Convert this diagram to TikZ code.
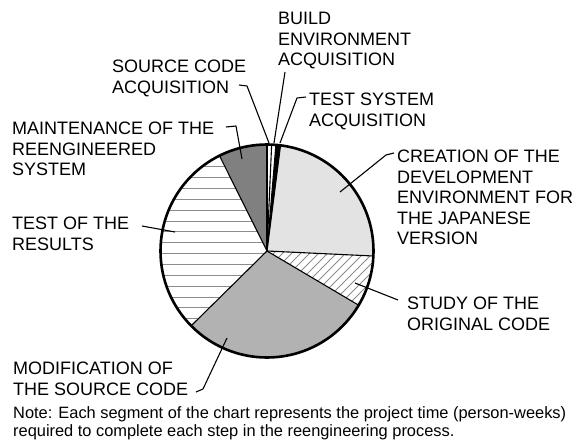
\documentclass[tikz,border=0pt]{standalone}
\usepackage{fontspec}
\setmainfont{Liberation Sans}
\definecolor{creafill}{gray}{0.89}
\definecolor{modifill}{gray}{0.70}
\definecolor{maintfill}{gray}{0.50}
\definecolor{ruling}{gray}{0.55}
\begin{document}
\begin{tikzpicture}[x=1pt,y=1pt,
  lbl/.style={anchor=north west, inner sep=0pt, align=left,
              font=\fontsize{18}{20.5}\selectfont},
  notetext/.style={anchor=north west, inner sep=0pt, align=left,
              font=\fontsize{16.4}{18}\selectfont},
  leader/.style={line width=1.1pt, black, line join=round},
  radial/.style={line width=1.1pt, black},
  rule/.style={line width=0.8pt, ruling}]
\useasboundingbox (0,0) rectangle (580,-446);

% pie geometry
\coordinate (C) at (267,-251);
\def\pieR{106.5pt}
\newcommand\pieslice[3]{%
  \fill[#3] (C) -- ++(#1:\pieR) arc[start angle=#1, end angle=#2, radius=\pieR] -- cycle;}

% slice fills
\pieslice{-2.7}{82.7}{creafill}
\pieslice{82.7}{85.2}{black}
\pieslice{85.2}{87.5}{white}
\pieslice{87.5}{90}{white}
\pieslice{90}{116.5}{maintfill}
\pieslice{116.5}{224.6}{white}
\pieslice{224.6}{329.4}{modifill}
\pieslice{329.4}{357.3}{white}

% horizontal ruling: test of the results
\begin{scope}
  \clip (C) -- ++(116.5:\pieR) arc[start angle=116.5, end angle=224.6, radius=\pieR] -- cycle;
  \foreach \k in {-2,...,16}
    \draw[rule] (150,-166.7-\k*10.85) -- (270,-166.7-\k*10.85);
\end{scope}

% diagonal hatching: study of the original code
\begin{scope}
  \clip (C) -- ++(329.4:\pieR) arc[start angle=329.4, end angle=357.3, radius=\pieR] -- cycle;
  \foreach \k in {-25,...,25}
    \draw[rule] (267+\k*9-150,-401) -- ++(300,300);
\end{scope}

% slice boundaries and outline
\foreach \a in {-2.7,82.7,85.2,87.5,90,116.5,224.6,329.4}
  \draw[radial] (C) -- ++(\a:\pieR);
\draw[line width=2.6pt] (C) circle[radius=\pieR];

% labels
\node[lbl] (build) at (278,-12) {BUILD\\ENVIRONMENT\\ACQUISITION};
\node[lbl] (source) at (112,-60) {SOURCE CODE\\ACQUISITION};
\node[lbl] (testsys) at (309,-93) {TEST SYSTEM\\ACQUISITION};
\node[lbl] (maint) at (12,-122) {MAINTENANCE OF THE\\REENGINEERED\\SYSTEM};
\node[lbl] (testres) at (12,-217) {TEST OF THE\\RESULTS};
\node[lbl] (creation) at (397,-150) {CREATION OF THE\\DEVELOPMENT\\ENVIRONMENT FOR\\THE JAPANESE\\VERSION};
\node[lbl] (study) at (407,-297) {STUDY OF THE\\ORIGINAL CODE};
\node[lbl] (modif) at (13,-362) {MODIFICATION OF\\THE SOURCE CODE};
\node[notetext] (note) at (13,-406) {Note: Each segment of the chart represents the project time (person-weeks)\\required to complete each step in the reengineering process.};

% leader anchor points
\coordinate (sourceA) at (239,-85);
\coordinate (sourceB) at (247,-86);
\coordinate (sourceE) at (269,-143);
\coordinate (buildA) at (285,-72);
\coordinate (buildE) at (274,-143);
\coordinate (testsysA) at (306,-97);
\coordinate (testsysB) at (297,-98);
\coordinate (testsysE) at (280,-143);
\coordinate (maintA) at (226,-127);
\coordinate (maintB) at (236,-126);
\coordinate (maintE) at (242,-159);
\coordinate (testresA) at (142,-226);
\coordinate (testresE) at (175,-232);
\coordinate (creationA) at (394,-153);
\coordinate (creationB) at (386,-155);
\coordinate (creationE) at (340,-192);
\coordinate (studyA) at (398,-300);
\coordinate (studyE) at (355,-283);
\coordinate (modifA) at (196,-392);
\coordinate (modifB) at (203,-389);
\coordinate (modifE) at (227,-338);

% leaders
\draw[leader] (sourceA) -- (sourceB) -- (sourceE);
\draw[leader] (buildA) -- (buildE);
\draw[leader] (testsysA) -- (testsysB) -- (testsysE);
\draw[leader] (maintA) -- (maintB) -- (maintE);
\draw[leader] (testresA) -- (testresE);
\draw[leader] (creationA) -- (creationB) -- (creationE);
\draw[leader] (studyA) -- (studyE);
\draw[leader] (modifA) -- (modifB) -- (modifE);
\end{tikzpicture}
\end{document}
